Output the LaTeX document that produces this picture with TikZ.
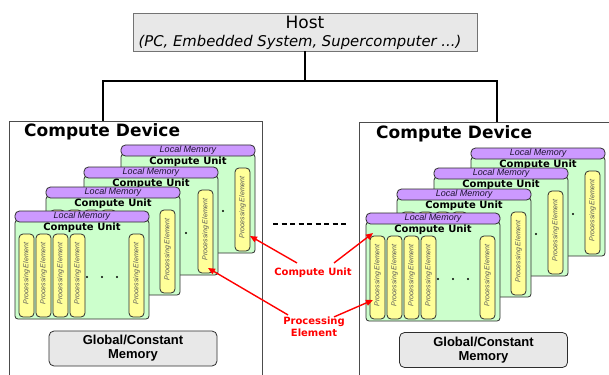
\documentclass[tikz,border=0pt]{standalone}
\usepackage{fontspec}
\setmainfont{DejaVu Sans}
\newfontfamily\arialfont{Liberation Sans}
\usetikzlibrary{arrows.meta,calc}
\definecolor{lmfill}{RGB}{204,153,255}
\definecolor{cufill}{RGB}{204,255,204}
\definecolor{pefill}{RGB}{255,255,153}
\definecolor{boxgray}{RGB}{232,232,232}
\definecolor{edge}{RGB}{45,45,45}
\definecolor{petxt}{RGB}{85,85,85}
\definecolor{lblred}{RGB}{255,0,0}
\definecolor{lmtxt}{RGB}{30,20,50}

\tikzset{
 box/.style={inner sep=0pt, outer sep=0pt, anchor=north west},
 cubody/.style={box, draw=edge, line width=0.8pt, fill=cufill, rounded corners=3pt, minimum width=134pt, minimum height=99pt},
 lmbar/.style={box, draw=edge, line width=0.8pt, fill=lmfill, rounded corners=4.5pt, minimum width=134pt, minimum height=11pt},
 pebox/.style={box, draw=edge, line width=0.8pt, fill=pefill, rounded corners=4pt, minimum width=15pt, minimum height=83pt},
 lmtext/.style={inner sep=0pt, font=\arialfont\itshape\fontsize{9}{10}\selectfont, text=lmtxt},
 cutext/.style={inner sep=0pt, font=\bfseries\fontsize{10}{12}\selectfont},
 petext/.style={inner sep=0pt, rotate=90, font=\arialfont\itshape\fontsize{7}{8}\selectfont, text=petxt},
 devbox/.style={box, draw=edge!85, line width=0.8pt, fill=white, minimum width=253pt, minimum height=270pt},
 devtitle/.style={inner sep=0pt, anchor=west, font=\bfseries\fontsize{17}{20}\selectfont},
 hostbox/.style={inner sep=0pt, draw=gray!90!black, line width=0.8pt, fill=boxgray, minimum width=344pt, minimum height=38pt},
 gmem/.style={inner sep=0pt, draw=edge, line width=0.8pt, fill=boxgray, rounded corners=5pt, minimum width=168pt, minimum height=35pt, align=center, font=\arialfont\bfseries\fontsize{13}{14}\selectfont},
 conn/.style={line width=2.8pt, draw=black, line join=miter},
 dashline/.style={line width=2.8pt, dash pattern=on 5pt off 3.5pt},
 redlab/.style={inner sep=1pt, text=lblred, align=center, font=\bfseries\fontsize{10}{12}\selectfont},
 redarr/.style={draw=lblred, line width=1.4pt, -{Triangle[length=7pt,width=6pt]}},
}

\newcommand\cunit[3]{%
\begin{scope}[shift={(#2,#3)}]
 \node[cubody] (#1b) at (0,9) {};
 \node[lmbar] (#1m) at (0,0) {};
 \node[lmtext] (#1mt) at (67,5.5) {Local Memory};
 \node[cutext] (#1ct) at (67,16.5) {Compute Unit};
 \foreach \i/\px in {1/4,2/21,3/38,4/55,5/114}{
   \node[pebox] (#1p\i) at (\px,23) {};
   \node[petext] (#1pt\i) at ([yshift=2pt]#1p\i.center) {Processing Element};
 }
 \foreach \dx in {72,87,102} \fill[black] (\dx,66) circle[radius=1.2pt];
\end{scope}}

\begin{document}
\begin{tikzpicture}[x=1pt,y=-1pt]
\clip (0,0) rectangle (609,374);
\fill[white] (0,0) rectangle (609,374);

% devices
\node[devbox] (dev1) at (9,121) {};
\node[devbox] (dev2) at (359,122) {};
\node[devtitle] (dev1t) at (24,132) {Compute Device};
\node[devtitle] (dev2t) at (376,134) {Compute Device};

% host
\node[hostbox] (host) at (305,32) {};
\node[inner sep=0pt, font=\fontsize{17}{20}\selectfont] (hostt) at (305,22.5) {Host};
\node[inner sep=0pt, font=\itshape\fontsize{14.8}{17}\selectfont] (hosts) at (300,42) {(PC, Embedded System, Supercomputer ...)};

% connectors
\coordinate (busL) at (103,81);
\coordinate (busR) at (497,81);
\draw[conn] (host.south) -- (host.south |- busL);
\draw[conn] (busL |- dev1.north) -- (busL) -- (busR) -- (busR |- dev2.north);

% compute units, left device
\cunit{la}{121}{145}
\cunit{lb}{84}{167}
\cunit{lc}{46}{187}
\cunit{ld}{15}{211}
% compute units, right device
\cunit{ra}{471}{148}
\cunit{rb}{434}{168}
\cunit{rc}{397}{189}
\cunit{rd}{366}{213}

% global memory
\node[gmem] (gm1) at (133,348.5) {Global/Constant\\Memory};
\node[gmem] (gm2) at (483.5,350) {Global/Constant\\Memory};

% dashes between devices
\coordinate (dsL) at (273,224);
\coordinate (dsR) at (346,224);
\draw[dashline] (dsL) -- (dsR);

% labels and arrows
\node[redlab] (lcu) at (313,273) {Compute Unit};
\node[redlab] (lpe) at (314,327) {Processing\\Element};
\coordinate (t1) at (250,236);
\coordinate (t2) at (373,233);
\coordinate (t3) at (208,268);
\coordinate (t4) at (373,300);
\draw[redarr] ([xshift=-16pt,yshift=4pt]lcu.north) -- (t1);
\draw[redarr] ([xshift=21pt,yshift=4pt]lcu.north) -- (t2);
\draw[redarr] ([xshift=-26pt,yshift=1pt]lpe.north) -- (t3);
\draw[redarr] ([xshift=20pt,yshift=-1pt]lpe.north) -- (t4);
\end{tikzpicture}
\end{document}
